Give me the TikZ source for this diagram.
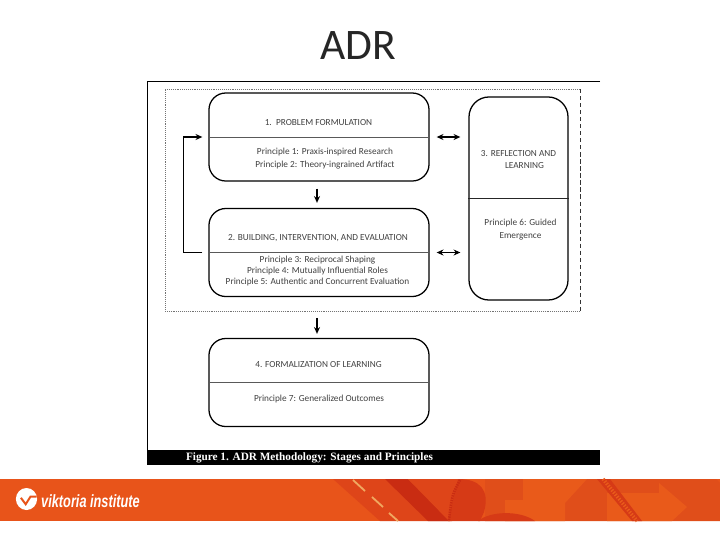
\documentclass[tikz,border=0pt]{standalone}
\usepackage{fontspec}
\setmainfont{Carlito}
\newfontfamily\capfont{Liberation Serif}
\newfontfamily\logofont{Liberation Sans}
\usepackage{xcolor}
\usetikzlibrary{arrows.meta, positioning, calc, shapes.geometric}
\definecolor{bandorange}{HTML}{E8541A}
\definecolor{bandroad}{HTML}{DE4519}
\definecolor{bandred}{HTML}{D63A16}
\definecolor{banddark}{HTML}{C92C12}
\definecolor{bandlight}{HTML}{E95A1A}
\definecolor{bandright}{HTML}{E04E1A}
\definecolor{roadline}{HTML}{F0A860}

\begin{document}
\begin{tikzpicture}[
    x=0.025cm, y=-0.025cm,
    font=\fontsize{6.6}{7.9}\selectfont,
    stage/.style={rectangle, rounded corners=0.42cm, draw=black, line width=0.9pt,
                minimum width=5.5cm, minimum height=2.2cm, inner sep=0pt},
    stagetall/.style={stage, rounded corners=0.5cm, minimum width=2.475cm, minimum height=5.075cm},
    lbl/.style={align=center, text=black!75, inner sep=0pt},
    divider/.style={draw=black!65, line width=0.4pt},
    arr/.style={-{Stealth[length=1.7mm, width=1.5mm]}, line width=0.8pt},
    biarr/.style={{Stealth[length=1.7mm, width=1.5mm]}-{Stealth[length=1.7mm, width=1.5mm]}, line width=0.8pt},
    frame/.style={draw=black, line width=0.7pt},
    dots/.style={draw=black!55, densely dotted, line width=0.35pt}
]
\useasboundingbox (0,0) rectangle (720,540);
% title
\node[font=\fontsize{31}{31}\selectfont, text=black!85, inner sep=0pt] (title) at (358,46) {ADR};
% scanned page
\coordinate (pagetl) at (147.5,81);
\coordinate (pagetr) at (600,81);
\coordinate (pagebl) at (147.5,450);
\draw[frame] (pagetr) -- (pagetl) -- (pagebl);
\node[fill=black, minimum width=11.325cm, minimum height=0.375cm, inner sep=0pt] (capband) at (373.5,457.5) {};
\node[font=\capfont\bfseries\fontsize{8}{9}\selectfont, text=white, inner sep=0pt] (caption) at (309.5,458)
    {Figure 1. ADR Methodology: Stages and Principles};
% dashed group
\coordinate (grouptl) at (165,89);
\coordinate (grouptr) at (580,89);
\coordinate (groupbr) at (580,311);
\coordinate (groupbl) at (165,311);
\draw[dots] (groupbl) -- (grouptl) -- (grouptr);
\draw[dots] (groupbl) -- (groupbr);
\draw[draw=black!80, densely dashed, line width=0.4pt] (grouptr) -- (groupbr);
% stages
\node[stage] (s1) at (319,137) {};
\node[stage] (s2) at (319,252.5) {};
\node[stage] (s4) at (319,382.5) {};
\node[stagetall] (s3) at (518.5,198.5) {};
\draw[divider] (s1.west) -- (s1.east);
\draw[divider] (s2.west) -- (s2.east);
\draw[divider] (s4.west) -- (s4.east);
\draw[divider, draw=black!85] (s3.west) -- (s3.east);
% labels
\node[lbl] (t1) at (318.5,122.5) {1.\ \ PROBLEM FORMULATION};
\node[lbl] (p1) at (325,158.5) {Principle 1: Praxis-inspired Research\\[0.8pt]Principle 2: Theory-ingrained Artifact};
\node[lbl] (t2) at (318,238) {2. BUILDING, INTERVENTION, AND EVALUATION};
\node[lbl] (p2) at (317.5,271) {Principle 3: Reciprocal Shaping\\Principle 4: Mutually Influential Roles\\Principle 5: Authentic and Concurrent Evaluation};
\node[lbl] (t3) at (518.5,159.5) {3. REFLECTION AND\\\hspace*{8.5pt}LEARNING};
\node[lbl] (p3) at (520.5,229.5) {Principle 6: Guided\\[0.8pt]Emergence};
\node[lbl] (t4) at (318.5,365) {4. FORMALIZATION OF LEARNING};
\node[lbl] (p4) at (319,399) {Principle 7: Generalized Outcomes};
% connectors
\draw[arr] ([xshift=-0.15cm]s2.west) -- ++(-0.475cm,0) |- ([xshift=-0.15cm]s1.west);
\draw[biarr] ([xshift=0.175cm]s1.east) -- ([xshift=-0.2cm]s1.east -| s3.west);
\draw[biarr] ([xshift=0.175cm]s2.east) -- ([xshift=-0.2cm]s2.east -| s3.west);
\draw[arr] ([xshift=-0.05cm,yshift=-0.175cm]s1.south) -- ([xshift=-0.05cm,yshift=0.125cm]s2.north);
\draw[arr] ([xshift=-0.05cm,yshift=0.5cm]s4.north) -- ([xshift=-0.05cm,yshift=0.1cm]s4.north);
% footer band
\fill[bandorange] (0,479) rectangle (720,521);
\fill[bandright] (485,479) -- (716,479) -- (720,483) -- (720,521) -- (485,521) -- cycle;
\fill[bandroad] (333,479) -- (403,479) -- (450,521) -- (380,521) -- cycle;
\fill[banddark] (385,479) -- (408,479) -- (452,521) -- (428,521) -- cycle;
\fill[bandroad] (408,479) -- (460,479) -- (449,521) -- cycle;
\fill[bandred] (458,479) .. controls (480,479) and (490,490) .. (484,512) -- (480,521) -- (448,521) -- cycle;
\fill[bandlight] (523,479) -- (587,479) -- (565,503) -- (565,521) -- (505,521) -- (505,500) -- (523,500) -- cycle;
\fill[bandlight] (607,493) -- (659,493) -- (659,483) -- (687,507) -- (672,521) -- (607,521) -- cycle;
\fill[bandred] (478,521) .. controls (490,511) and (520,510) .. (535,521) -- cycle;
\fill[bandred] (597,479) -- (610,479) -- (642,521) -- (632,521) -- cycle;
\draw[bandlight, line width=2.6pt, dash pattern=on 1pt off 1pt] (603,479) -- (637,521);
\draw[banddark, line width=1.8pt, dash pattern=on 1pt off 0.7pt] (460,480) .. controls (452,495) .. (449,520);
\draw[roadline, line width=1.3pt] (353,480) -- (365,491);
\draw[roadline, line width=1.3pt] (372,497) -- (383,507);
\draw[roadline, line width=1.3pt] (389,513) -- (398,521);
% logo
\node[ellipse, fill=white, minimum width=0.53cm, minimum height=0.55cm, inner sep=0pt] (logo) at (26.5,499) {};
\draw[bandorange, line width=1.4pt] ([xshift=-0.14cm,yshift=0.03cm]logo.center) -- ([xshift=-0.02cm,yshift=-0.13cm]logo.center) -- ([xshift=0.1cm,yshift=0.06cm]logo.center) -- ([xshift=0.25cm,yshift=0.06cm]logo.center);
\node[font=\logofont\bfseries\itshape\fontsize{12.6}{13}\selectfont, text=white, inner sep=0pt, xscale=0.72, transform shape] (logotext) at (90.5,501) {viktoria institute};
\end{tikzpicture}
\end{document}
